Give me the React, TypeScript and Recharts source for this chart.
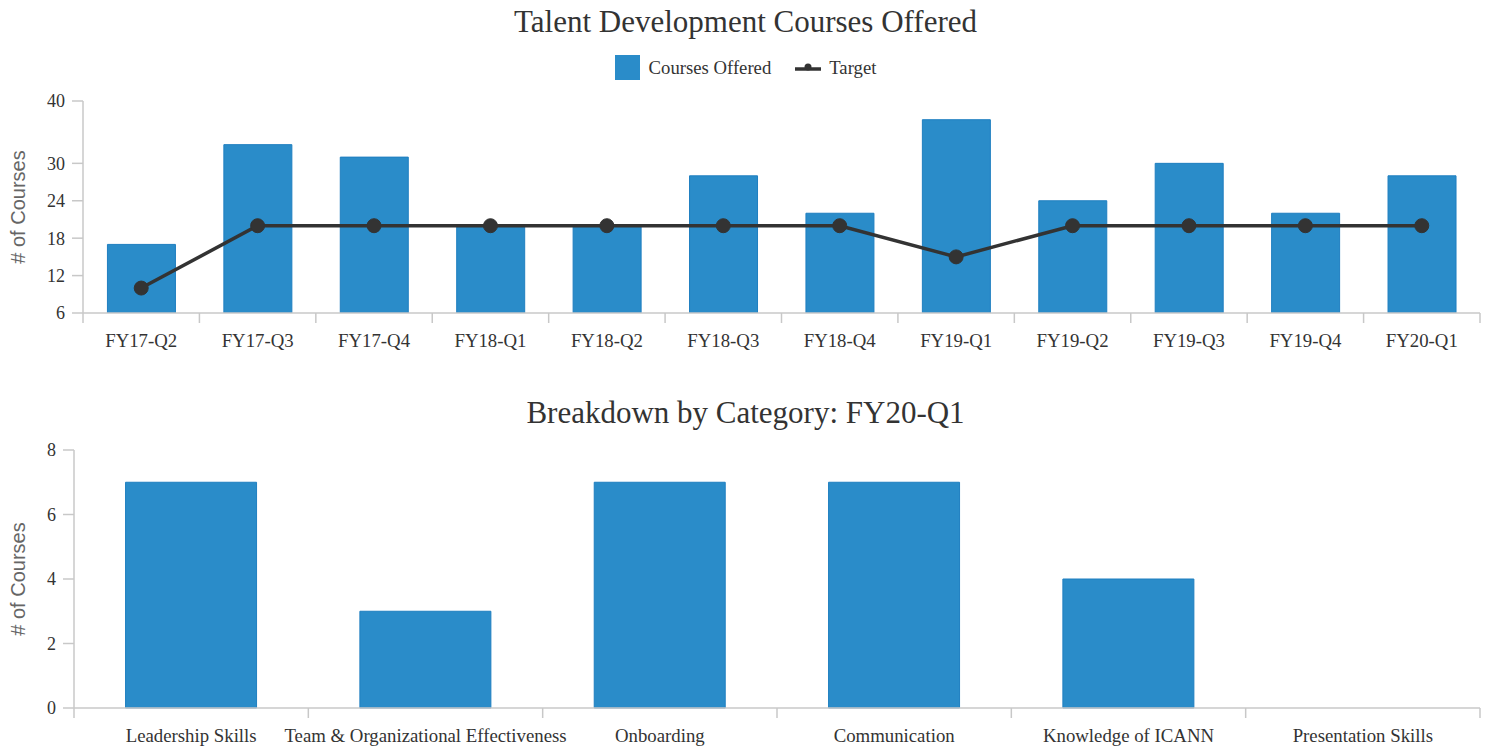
import React from 'react';
import { ComposedChart, BarChart, Bar, Line, XAxis, YAxis } from 'recharts';

const quarters = ['FY17-Q2', 'FY17-Q3', 'FY17-Q4', 'FY18-Q1', 'FY18-Q2', 'FY18-Q3', 'FY18-Q4', 'FY19-Q1', 'FY19-Q2', 'FY19-Q3', 'FY19-Q4', 'FY20-Q1'];
const coursesOffered = [17, 33, 31, 20, 20, 28, 22, 37, 24, 30, 22, 28];
const targets = [10, 20, 20, 20, 20, 20, 20, 15, 20, 20, 20, 20];
const topTicks = [6, 12, 18, 24, 30, 40];

const categories = ['Leadership Skills', 'Team & Organizational Effectiveness', 'Onboarding', 'Communication', 'Knowledge of ICANN', 'Presentation Skills'];
const categoryCounts = [7, 3, 7, 7, 4, 0];
const bottomTicks = [0, 2, 4, 6, 8];

const topData = quarters.map((q, i) => ({ quarter: q, offered: coursesOffered[i], target: targets[i] }));
const bottomData = categories.map((c, i) => ({ category: c, count: categoryCounts[i] }));

const BAR = '#2a8cc9';
const BAR_EDGE = '#1f7fc0';
const AXIS = '#c8c8c8';
const TEXT = '#333';
const SERIF = '"Liberation Serif", "Times New Roman", serif';

const makeTick = (count: number, labelDy: number, tickLen: number) => (props: any) => {
  const { x, y, payload, index, width } = props;
  const bw = width / count;
  return (
    <g>
      {index === 0 && <line x1={x - bw / 2} x2={x - bw / 2} y1={y} y2={y + tickLen} stroke={AXIS} strokeWidth={1.5} />}
      <line x1={x + bw / 2} x2={x + bw / 2} y1={y} y2={y + tickLen} stroke={AXIS} strokeWidth={1.5} />
      <text x={x} y={y + labelDy} textAnchor="middle" fontFamily={SERIF} fontSize={18.8} fill={TEXT}>
        {payload.value}
      </text>
    </g>
  );
};

const yLabel = (props: any) => {
  const vb = props.viewBox;
  const cx = 18;
  const cy = vb.y + vb.height / 2;
  return (
    <text x={cx} y={cy} transform={`rotate(-90, ${cx}, ${cy})`} textAnchor="middle" dominantBaseline="central"
      fontFamily='"Liberation Sans", Arial, sans-serif' fontSize={20} fill="#666">
      # of Courses
    </text>
  );
};

const titleStyle: React.CSSProperties = {
  position: 'absolute', left: 0, width: 1491, textAlign: 'center', fontFamily: SERIF, fontSize: 31, color: TEXT, lineHeight: '36px',
};

export default function App() {
  return (
    <div style={{ position: 'absolute', left: 0, top: 0, width: 1491, height: 749, background: '#fff', overflow: 'hidden' }}>
      <div style={{ ...titleStyle, top: 4 }}>Talent Development Courses Offered</div>
      <div style={{ ...titleStyle, top: 395 }}>Breakdown by Category: FY20-Q1</div>

      <div style={{ position: 'absolute', left: 0, top: 0 }}>
        <ComposedChart width={1491} height={360} data={topData} margin={{ top: 101, right: 11, bottom: 0, left: 0 }} barCategoryGap="21%">
          <XAxis dataKey="quarter" height={47} axisLine={{ stroke: AXIS, strokeWidth: 1.5 }} tickLine={false} tickSize={0} tickMargin={0}
            interval={0} tick={makeTick(quarters.length, 34, 10)} />
          <YAxis width={83} domain={[6, 40]} ticks={topTicks} interval={0} axisLine={{ stroke: AXIS, strokeWidth: 1.5 }}
            tickLine={{ stroke: AXIS, strokeWidth: 1.5 }} tickSize={11} tickMargin={7}
            tick={{ fontFamily: SERIF, fontSize: 18, fill: TEXT }} label={{ content: yLabel }} allowDataOverflow />
          <Bar dataKey="offered" name="Courses Offered" fill={BAR} stroke={BAR_EDGE} strokeWidth={1} isAnimationActive={false} />
          <Line dataKey="target" name="Target" type="linear" stroke={TEXT} strokeWidth={3.5}
            dot={{ r: 7, fill: TEXT, stroke: TEXT, strokeWidth: 1 }} isAnimationActive={false} />
        </ComposedChart>
      </div>

      <div style={{ position: 'absolute', left: 0, top: 55, width: 1491, display: 'flex', justifyContent: 'center', alignItems: 'center', fontFamily: SERIF, fontSize: 18.7, color: TEXT }}>
        <div style={{ width: 25, height: 25, background: BAR, marginRight: 9 }} />
        <span style={{ marginRight: 24 }}>Courses Offered</span>
        <svg width={26} height={12} style={{ marginRight: 8 }}>
          <line x1={0} x2={26} y1={7} y2={7} stroke={TEXT} strokeWidth={3.5} />
          <circle cx={13} cy={5} r={3.5} fill={TEXT} />
        </svg>
        <span>Target</span>
      </div>

      <div style={{ position: 'absolute', left: 0, top: 380 }}>
        <BarChart width={1491} height={369} data={bottomData} margin={{ top: 70, right: 11, bottom: 0, left: 0 }} barCategoryGap="22%">
          <XAxis dataKey="category" height={41} axisLine={{ stroke: AXIS, strokeWidth: 1.5 }} tickLine={false} tickSize={0} tickMargin={0}
            interval={0} tick={makeTick(categories.length, 34, 10)} />
          <YAxis width={74} domain={[0, 8]} ticks={bottomTicks} interval={0} axisLine={{ stroke: AXIS, strokeWidth: 1.5 }}
            tickLine={{ stroke: AXIS, strokeWidth: 1.5 }} tickSize={11} tickMargin={7}
            tick={{ fontFamily: SERIF, fontSize: 18, fill: TEXT }} label={{ content: yLabel }} />
          <Bar dataKey="count" name="Courses" fill={BAR} stroke={BAR_EDGE} strokeWidth={1} isAnimationActive={false} />
        </BarChart>
      </div>
    </div>
  );
}
